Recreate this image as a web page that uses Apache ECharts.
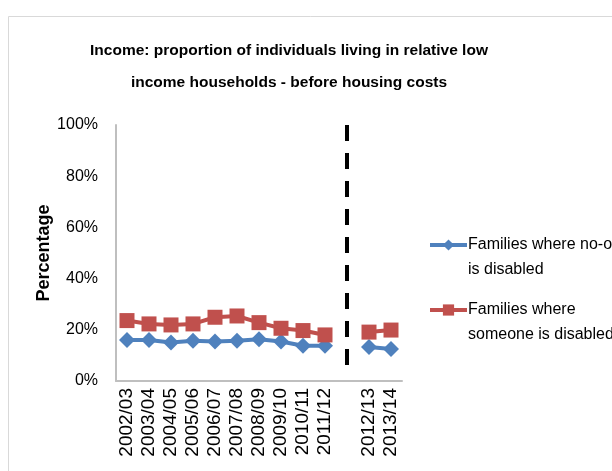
<!DOCTYPE html>
<html><head><meta charset="utf-8">
<script src="https://cdn.jsdelivr.net/npm/echarts@6/dist/echarts.min.js"></script>
<style>html,body{margin:0;padding:0;background:#fff}#c{width:612px;height:471px}</style>
</head><body><div id="c"></div>
<script>
const categories = ['2002/03','2003/04','2004/05','2005/06','2006/07','2007/08','2008/09','2009/10','2010/11','2011/12','','2012/13','2013/14'];
const noOneDisabled = [16.0,16.0,15.0,15.7,15.4,15.7,16.3,15.4,13.8,13.8,null,13.3,12.5];
const someoneDisabled = [23.6,22.3,21.9,22.3,24.9,25.4,22.8,20.6,19.7,18.0,null,19.1,19.9];
const yTicks = [0,20,40,60,80,100];
const seriesNames = ['Families where no-one is disabled','Families where someone is disabled'];
const legendLabels = {
  'Families where no-one is disabled': ' \nFamilies where no-one\nis disabled',
  'Families where someone is disabled': ' \nFamilies where\nsomeone is disabled'
};
const font = '"Liberation Sans", Arial, sans-serif';
const legendCommon = {
  orient:'vertical', left:428, padding:0,
  itemWidth:37, itemHeight:14,
  lineStyle:{width:4},
  formatter:n=>legendLabels[n],
  textStyle:{fontFamily:font, fontSize:16, color:'#000', lineHeight:25, padding:[0,0,0,-4]}
};
const chart = echarts.init(document.getElementById('c'), null, {renderer:'canvas'});
chart.setOption({
  animation:false,
  backgroundColor:'#fff',
  title:{
    text:'Income: proportion of individuals living in relative low\nincome households - before housing costs',
    left:284, top:30, textAlign:'center',
    textStyle:{fontFamily:font, fontSize:15.5, fontWeight:'bold', color:'#000', lineHeight:32}
  },
  graphic:[{type:'rect', shape:{x:8.5,y:16.5,width:800,height:800}, style:{fill:'none', stroke:'#d9d9d9', lineWidth:1}, z:-1}],
  legend:[
    Object.assign({}, legendCommon, {top:207.5, data:[seriesNames[0]]}),
    Object.assign({}, legendCommon, {top:272.5, data:[seriesNames[1]]})
  ],
  grid:{left:116, right:210, top:125, bottom:90},
  xAxis:{
    type:'category', data:categories, boundaryGap:true,
    axisLine:{lineStyle:{color:'#bfbfbf', width:2}},
    axisTick:{show:false},
    axisLabel:{rotate:90, interval:0, margin:7, fontFamily:font, fontSize:19, color:'#000'}
  },
  yAxis:{
    type:'value', min:yTicks[0], max:yTicks[yTicks.length-1], interval:20,
    name:'Percentage', nameLocation:'middle', nameGap:62,
    nameTextStyle:{fontFamily:font, fontSize:18, fontWeight:'bold', color:'#000'},
    axisLine:{show:true, lineStyle:{color:'#bfbfbf', width:2}},
    axisTick:{show:false},
    splitLine:{show:false},
    axisLabel:{formatter:'{value}%', margin:18, fontFamily:font, fontSize:16, color:'#000'}
  },
  series:[
    {name:seriesNames[0], type:'line', data:noOneDisabled, connectNulls:false,
     symbol:'diamond', symbolSize:[16,16], itemStyle:{color:'#4F81BD'}, lineStyle:{color:'#4F81BD', width:4}},
    {name:seriesNames[1], type:'line', data:someoneDisabled, connectNulls:false,
     symbol:'rect', symbolSize:[15,15], itemStyle:{color:'#C0504D'}, lineStyle:{color:'#C0504D', width:4},
     markLine:{silent:true, symbol:'none', label:{show:false},
       lineStyle:{color:'#000', width:4, type:[16,12]},
       data:[[{coord:[10,100]},{coord:[10,6]}]]}}
  ]
});
</script></body></html>
